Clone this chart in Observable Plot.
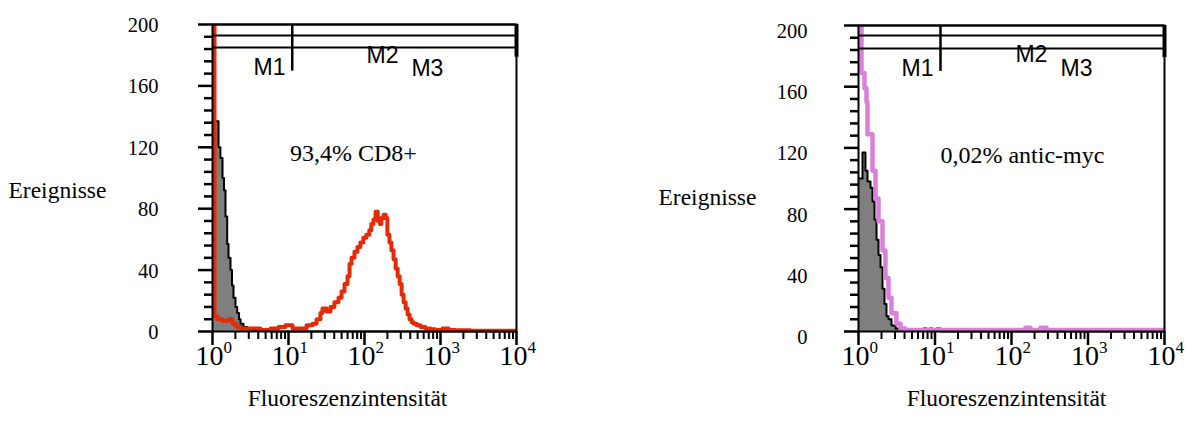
<!DOCTYPE html>
<html>
<head>
<meta charset="utf-8">
<script src="https://cdn.jsdelivr.net/npm/d3@7"></script>
<script src="https://cdn.jsdelivr.net/npm/@observablehq/plot@0.6"></script>
<style>
  html, body { margin: 0; padding: 0; background: #fff; }
  #wrap { display: flex; width: 1188px; height: 421px; }
</style>
</head>
<body>
<div id="wrap"></div>
<script>
// ---------- data ----------
// Left panel: isotype control (grey) and CD8 staining (red)
const leftCtrlX = [1.0, 1.095, 1.20, 1.27, 1.354, 1.417, 1.483, 1.56, 1.624, 1.725, 1.806, 1.889, 2.007, 2.113, 2.232, 2.335, 2.557, 2.887, 3.36, 4.28, 5.8, 10000];
const leftCtrlY = [137, 137, 120, 113, 100, 92, 75, 57, 48, 40, 30, 22, 16, 12, 8, 5, 3, 2, 1, 0.5, 0, 0];

const leftSampleX = [1.0, 1.063, 1.163, 1.354, 1.624, 1.833, 2.07, 2.335, 3.16, 4.28, 5.8, 7.39, 9.12, 11.3, 14.4, 17.3, 20.7, 23.4, 26.3, 28.0, 31.6, 35.7, 40.2, 45.5, 49.9, 54.6, 59.8, 63.6, 67.5, 73.8, 80.8, 88.3, 96.6, 105.7, 115.6, 122.9, 131.3, 139.8, 149.5, 159.5, 166.6, 178, 190, 200, 213, 226, 241, 257, 273, 290, 308, 327, 348, 369, 392, 417, 443, 484, 547, 632, 736, 856, 1066, 1276, 1573, 2467, 4550, 10000];
const leftSampleY = [250, 10, 8, 7, 8, 5, 3, 2, 2, 1, 2, 3, 4, 2, 2, 4, 5, 8, 12, 15, 13, 16, 19, 22, 26, 31, 36, 44, 48, 52, 55, 58, 61, 63, 66, 70, 73, 78, 72, 70, 74, 76, 74, 63, 58, 53, 47, 41, 36, 31, 24, 19, 15, 11, 8, 6, 5, 4, 3, 2, 1.5, 1, 2, 1, 0.8, 0.5, 0.5, 0.5];

// Right panel: isotype control (grey) and anti-c-myc staining (pink)
const rightCtrlX = [1.0, 1.128, 1.234, 1.311, 1.435, 1.523, 1.619, 1.72, 1.826, 1.939, 2.06, 2.187, 2.32, 2.466, 2.7, 3.05, 3.54, 4.79, 6.46, 7.09, 7.76, 8.5, 9.3, 10.5, 11.8, 10000];
const rightCtrlY = [100, 117, 105, 98, 94, 85, 73, 60, 50, 42, 28, 18, 10, 8, 4, 2, 1, 0.5, 0.5, 2, 0.5, 2, 0.5, 2, 0, 0];

const rightSampleX = [1.0, 1.094, 1.198, 1.272, 1.311, 1.523, 1.67, 1.826, 2.06, 2.25, 2.466, 2.7, 3.13, 3.54, 4.11, 152, 177, 239, 287, 10000];
const rightSampleY = [250, 169, 159, 150, 129, 105, 87, 72, 53, 35, 22, 12, 5, 2, 1, 2.5, 1, 2.5, 1, 1];

// axes
const yTicksMajor = [0, 40, 80, 120, 160, 200];
const yTicksMinor = [8, 16, 24, 32, 48, 56, 64, 72, 88, 96, 104, 112, 128, 136, 144, 152, 168, 176, 184, 192];
const xTicksMajor = [1, 10, 100, 1000, 10000];
const xTickExponents = ["0", "1", "2", "3", "4"];
const xTicksMinor = [2, 3, 4, 5, 6, 7, 8, 9, 20, 30, 40, 50, 60, 70, 80, 90, 200, 300, 400, 500, 600, 700, 800, 900, 2000, 3000, 4000, 5000, 6000, 7000, 8000, 9000];
const xLabelBase = "10";
const yAxisLabel = "Ereignisse";
const xAxisLabel = "Fluoreszenzintensität";

// gate markers (M1, M2, M3)
const markerNames = ["M1", "M2", "M3"];
const leftMarkerTextX = [5.62, 173, 673];
const leftMarkerTextY = [172, 180, 171];
const rightMarkerTextX = [5.9, 182, 708];
const rightMarkerTextY = [172, 181, 172];
const markerLevelsLeft = [200, 192.8, 185];
const markerLevelsRight = [200, 193.5, 185];
const markerBarsLeft = [{x: 11.2, y1: 169.6, y2: 200, w: 2.5}, {x: 10000, y1: 178.7, y2: 200, w: 4}];
const markerBarsRight = [{x: 11.8, y1: 170, y2: 200, w: 2.5}, {x: 10000, y1: 179, y2: 200, w: 4}];

const annotations = ["93,4% CD8+", "0,02% antic-myc"];
const annotationX = [71.6, 139];
const annotationY = [116, 115];

// ---------- drawing ----------
const serif = "'Liberation Serif', 'Times New Roman', serif";
const sans = "'Liberation Sans', Arial, sans-serif";
const zipXY = (xs, ys) => xs.map((x, i) => ({x, y: ys[i]}));

function panel(o) {
  const ctrl = zipXY(o.ctrlX, o.ctrlY);
  const sample = zipXY(o.sampleX, o.sampleY);
  const markerTexts = markerNames.map((t, i) => ({t, x: o.mX[i], y: o.mY[i]}));
  const exps = xTicksMajor.map((v, i) => ({v, e: xTickExponents[i]}));
  return Plot.plot({
    width: 594,
    height: 421,
    marginLeft: o.ml,
    marginRight: o.mr,
    marginTop: o.mt,
    marginBottom: 90,
    style: {fontFamily: serif, background: "white", color: "black", overflow: "visible"},
    x: {type: "log", domain: [1, 10000], axis: null},
    y: {domain: [0, 200], axis: null},
    marks: [
      Plot.areaY(ctrl, {x: "x", y: "y", curve: "step-after", fill: "#7f7f7f"}),
      Plot.lineY(ctrl, {x: "x", y: "y", curve: "step-after", stroke: "black", strokeWidth: 2}),
      Plot.lineY(sample, {x: "x", y: "y", curve: "step-after", stroke: o.color, strokeWidth: o.sw, clip: true}),
      // markers
      Plot.ruleY(o.levels, {y: d => d, x1: 1, x2: 10000, stroke: "black", strokeWidth: 2}),
      Plot.ruleX(o.bars, {x: "x", y1: "y1", y2: "y2", strokeWidth: "w", stroke: "black"}),
      Plot.text(markerTexts, {x: "x", y: "y", text: "t", fontFamily: sans, fontSize: 23, fill: "black", style: "letter-spacing:1px"}),
      // frame
      Plot.frame({stroke: "black", strokeWidth: 2}),
      // y ticks
      Plot.axisY({ticks: yTicksMajor, tickSize: 14, strokeWidth: 2.5, fill: "none", tickFormat: () => "", label: null}),
      Plot.axisY({ticks: yTicksMinor, tickSize: 8, strokeWidth: 2.5, fill: "none", tickFormat: () => "", label: null}),
      Plot.text(yTicksMajor, {y: d => d, text: d => String(d), frameAnchor: "left", dx: o.yLabDx, dy: o.yLabDy, textAnchor: "end", fontSize: 20.5}),
      // x ticks
      Plot.axisX({ticks: xTicksMajor, tickSize: 14, strokeWidth: 2.5, fill: "none", tickFormat: () => "", label: null}),
      Plot.axisX({ticks: xTicksMinor, tickSize: 8, strokeWidth: 2, fill: "none", tickFormat: () => "", label: null}),
      Plot.text(xTicksMajor, {x: d => d, text: () => xLabelBase, frameAnchor: "bottom", dx: -3, dy: 33, fontSize: 28}),
      Plot.text(exps, {x: "v", text: "e", frameAnchor: "bottom", dx: 11, dy: 21, textAnchor: "start", fontSize: 17}),
      // axis titles
      Plot.text([yAxisLabel], {frameAnchor: "left", dx: o.yTitleDx, dy: o.yTitleDy, textAnchor: "start", fontSize: 23.5}),
      Plot.text([xAxisLabel], {frameAnchor: "bottom", dx: o.xTitleDx, dy: 74, fontSize: 23.5}),
      // annotation
      Plot.text([o.ann], {x: () => o.annX, y: () => o.annY, text: d => d, fontSize: 24})
    ]
  });
}

const wrap = document.getElementById("wrap");
wrap.append(panel({
  ctrlX: leftCtrlX, ctrlY: leftCtrlY, sampleX: leftSampleX, sampleY: leftSampleY,
  color: "#e62a06", sw: 4, ml: 212, mr: 78, mt: 24,
  mX: leftMarkerTextX, mY: leftMarkerTextY, levels: markerLevelsLeft, bars: markerBarsLeft,
  yLabDx: -54, yLabDy: 1, yTitleDx: -204, yTitleDy: 12.5, xTitleDx: -17,
  ann: annotations[0], annX: annotationX[0], annY: annotationY[0]
}));
wrap.append(panel({
  ctrlX: rightCtrlX, ctrlY: rightCtrlY, sampleX: rightSampleX, sampleY: rightSampleY,
  color: "#da80da", sw: 4.5, ml: 264, mr: 24, mt: 25,
  mX: rightMarkerTextX, mY: rightMarkerTextY, levels: markerLevelsRight, bars: markerBarsRight,
  yLabDx: -51, yLabDy: 6, yTitleDx: -200, yTitleDy: 19, xTitleDx: -5,
  ann: annotations[1], annX: annotationX[1], annY: annotationY[1]
}));
</script>
</body>
</html>
